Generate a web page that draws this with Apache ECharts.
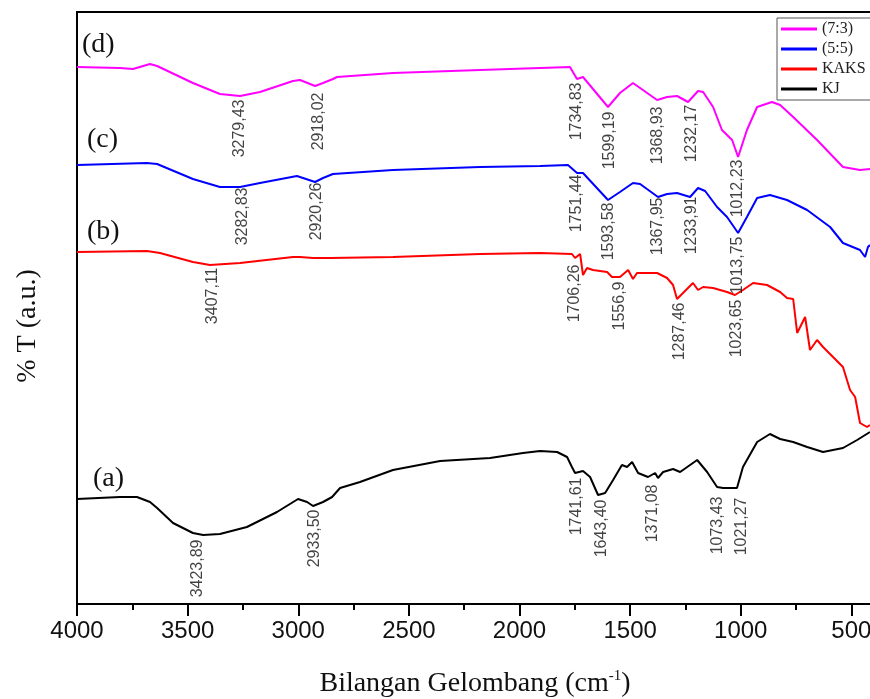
<!DOCTYPE html>
<html>
<head>
<meta charset="utf-8">
<script src="https://cdn.jsdelivr.net/npm/echarts@6/dist/echarts.min.js"></script>
<style>
html,body{margin:0;padding:0;background:#fff;overflow:hidden;width:870px;height:699px;}
#wrap{width:870px;height:699px;overflow:hidden;position:relative;}
#chart{width:962px;height:699px;}
</style>
</head>
<body>
<div id="wrap"><div id="chart"></div></div>
<script>
// ---- data (wavenumber cm-1, transmittance a.u. with vertical offsets) ----
const wnD = [4000,3806,3747,3670,3638,3476,3354,3263,3173,3024,2992,2924,2888,2843,2825,2572,2178,1907,1772,1740,1713,1600,1546,1487,1455,1378,1333,1288,1238,1193,1170,1125,1085,1039,1012,972,926,859,822,763,655,538,461,416];
const tD  = [537,536,535,540,538,521,510,508,512,523,524,518,521,525,527,531,534,536,537,525,527,497,511,521,516,504,507,508,502,513,512,497,474,464,447,474,497,502,499,487,464,437,434,435];

const wnC = [4000,3684,3638,3476,3354,3263,3173,3006,2924,2888,2843,2572,2178,1907,1781,1740,1713,1600,1546,1487,1455,1374,1333,1288,1229,1193,1161,1107,1062,1012,972,926,868,791,700,596,538,461,438,425,416];
const tC  = [439,441,440,425,417,417,421,428,422,426,430,434,437,438,439,431,431,404,412,421,420,407,410,411,407,416,413,397,387,371,387,406,409,404,394,377,361,354,347,357,359];

const wnB = [4000,3684,3625,3476,3399,3263,3024,2992,2933,2856,2572,2178,1907,1763,1749,1726,1713,1695,1668,1604,1582,1546,1509,1487,1469,1378,1333,1306,1288,1261,1216,1193,1170,1125,1062,1026,990,944,881,822,791,763,745,709,687,655,628,583,538,506,483,461,429,416];
const tB  = [352,353,351,342,339,341,347,347,346,346,347,350,351,350,346,350,329,336,334,332,327,327,334,325,331,331,326,319,305,311,321,314,317,316,312,309,314,321,319,312,306,305,271,287,254,264,257,247,237,214,207,181,177,179];

const wnA = [4000,3806,3729,3670,3638,3566,3476,3430,3354,3232,3096,3001,2960,2933,2888,2847,2811,2721,2572,2359,2133,1984,1907,1830,1785,1763,1749,1713,1681,1645,1613,1577,1537,1514,1491,1464,1419,1387,1374,1351,1306,1274,1197,1152,1107,1080,1035,1017,990,926,868,822,763,700,628,538,474,416];
const tA  = [105,107,107,102,96,81,71,69,70,77,92,105,102,98,102,107,116,122,134,143,146,151,153,152,147,137,131,133,127,109,111,124,139,137,142,131,127,131,126,132,135,132,144,132,117,116,116,116,137,162,170,165,162,157,152,156,164,172];

const seriesNames  = ['(7:3)', '(5:5)', 'KAKS', 'KJ'];
const seriesColors = ['#ff00ff', '#0000ff', '#ff0000', '#000000'];

// peak annotations: text, label wavenumber, label top (a.u.)
const peakTextD = ['3279,43','2918,02','1734,83','1599,19','1368,93','1232,17','1012,23'];
const peakXD    = [3263,2906,1740,1591,1374,1220,1012];
const peakYD    = [504,511,521,492,497,499,444];
const peakTextC = ['3282,83','2920,26','1751,44','1593,58','1367,95','1233,91','1013,75'];
const peakXC    = [3250,2915,1740,1595,1374,1220,1012];
const peakYC    = [416,421,429,401,406,407,367];
const peakTextB = ['3407,11','1706,26','1556,9','1287,46','1023,65'];
const peakXB    = [3385,1749,1546,1274,1017];
const peakYB    = [336,339,322,301,304];
const peakTextA = ['3423,89','2933,50','1741,61','1643,40','1371,08','1073,43','1021,27'];
const peakXA    = [3453,2924,1740,1627,1396,1103,994];
const peakYA    = [64,94,126,104,119,107,106];

const panelTexts = ['(d)','(c)','(b)','(a)'];

// ---- build ----
const zip = (a, b) => a.map((v, i) => [v, b[i]]);
const lineData = [zip(wnD,tD), zip(wnC,tC), zip(wnB,tB), zip(wnA,tA)];
const peaks = [].concat(
  peakTextD.map((t,i)=>[peakXD[i], peakYD[i], t]),
  peakTextC.map((t,i)=>[peakXC[i], peakYC[i], t]),
  peakTextB.map((t,i)=>[peakXB[i], peakYB[i], t]),
  peakTextA.map((t,i)=>[peakXA[i], peakYA[i], t])
);

const SERIF = '"Liberation Serif","Times New Roman",serif';
const SANS  = '"Liberation Sans",Arial,sans-serif';

const chart = echarts.init(document.getElementById('chart'), null, {renderer:'canvas'});

const series = seriesNames.map((n, i) => ({
  type: 'line', name: n, data: lineData[i], showSymbol: false, silent: true,
  lineStyle: {color: seriesColors[i], width: 2},
  itemStyle: {color: seriesColors[i]},
  z: 3
}));
series.push({
  type: 'scatter', name: 'peaks', data: peaks, symbolSize: 1, silent: true,
  itemStyle: {color: 'rgba(0,0,0,0)'},
  label: {
    show: true, formatter: p => p.data[2], position: [0, 0],
    align: 'right', verticalAlign: 'middle', rotate: 90,
    fontFamily: SANS, fontSize: 16, color: '#111'
  },
  z: 4
});

const panelPos = [[82,45],[87,140],[87,232],[93,479]];

chart.setOption({
  animation: false,
  backgroundColor: '#fff',
  grid: {left: 77, top: 12, right: 0, bottom: 95, outerBoundsMode: 'none', containLabel: false,
         show: true, borderColor: '#000', borderWidth: 2, backgroundColor: 'transparent'},
  xAxis: {
    type: 'value', inverse: true, min: 0, max: 4000, interval: 500,
    axisLine: {show: true, lineStyle: {color: '#000', width: 2}},
    axisTick: {show: true, inside: false, length: 12, lineStyle: {color: '#000', width: 2}},
    minorTick: {show: true, splitNumber: 2, length: 6, lineStyle: {color: '#000', width: 2}},
    axisLabel: {show: true, fontFamily: SANS, fontSize: 24, color: '#111', margin: 15, showMinLabel: true, showMaxLabel: true, formatter: v => String(v)},
    splitLine: {show: false}
  },
  yAxis: {
    type: 'value', min: 0, max: 592,
    axisLine: {show: true, lineStyle: {color: '#000', width: 2}},
    axisTick: {show: false}, axisLabel: {show: false}, splitLine: {show: false}
  },
  legend: {
    data: seriesNames, orient: 'vertical', left: 777, top: 18,
    icon: 'rect', itemWidth: 36, itemHeight: 3, itemGap: 4, itemTextGap: 4,
    padding: [3, 6, 3, 4], borderColor: '#555', borderWidth: 1,
    textStyle: {fontFamily: SERIF, fontSize: 16, color: '#222'}
  },
  graphic: [
    ...panelTexts.map((t, i) => ({
      type: 'text', x: panelPos[i][0], y: panelPos[i][1],
      style: {text: t, font: '28px ' + SERIF, fill: '#111', textAlign: 'left', textVerticalAlign: 'middle'}
    })),
    {
      type: 'text', x: 28, y: 326, rotation: Math.PI / 2,
      style: {text: '% T (a.u.)', font: '28px ' + SERIF, fill: '#111', textAlign: 'center', textVerticalAlign: 'middle'}
    },
    {
      type: 'text', x: 475, y: 684,
      style: {
        text: '{m|Bilangan Gelombang (cm}{s|-1}{m|)}',
        textAlign: 'center', textVerticalAlign: 'middle',
        rich: {
          m: {fontFamily: SERIF, fontSize: 28, fill: '#111', lineHeight: 30},
          s: {fontFamily: SERIF, fontSize: 15, fill: '#111', verticalAlign: 'top', lineHeight: 30}
        }
      }
    }
  ],
  series: series
});
</script>
</body>
</html>
